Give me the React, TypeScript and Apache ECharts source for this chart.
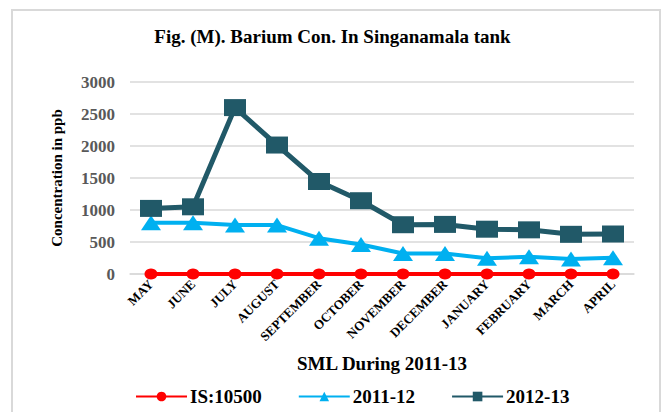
import React, { useEffect, useRef } from "react";
import * as echarts from "echarts";

const months = ["MAY", "JUNE", "JULY", "AUGUST", "SEPTEMBER", "OCTOBER", "NOVEMBER", "DECEMBER", "JANUARY", "FEBRUARY", "MARCH", "APRIL"];
const is10500 = [0, 0, 0, 0, 0, 0, 0, 0, 0, 0, 0, 0];
const y2011 = [800, 800, 765, 765, 560, 460, 320, 320, 245, 270, 235, 255];
const y2012 = [1025, 1050, 2600, 2015, 1445, 1145, 770, 775, 700, 690, 620, 625];

const FONT = "'Liberation Serif', 'Times New Roman', serif";

export default function App() {
  const ref = useRef<HTMLDivElement>(null);
  useEffect(() => {
    if (!ref.current) return;
    const chart = echarts.init(ref.current, undefined, { renderer: "svg" });
    chart.setOption({
      animation: false,
      backgroundColor: "#ffffff",
      title: {
        text: "Fig. (M). Barium Con. In Singanamala tank",
        left: "center",
        top: 22,
        textStyle: { fontFamily: FONT, fontWeight: "bold", fontSize: 19, color: "#000" },
      },
      graphic: [
        {
          type: "rect",
          shape: { x: 12, y: 10, width: 648, height: 430 },
          style: { fill: "none", stroke: "#d9d9d9", lineWidth: 2 },
          silent: true,
        },
      ],
      grid: { left: 130, right: 31, top: 82, bottom: 138, containLabel: false },
      legend: {
        top: 382,
        left: 130,
        itemWidth: 51,
        itemHeight: 12,
        itemGap: 36,
        textStyle: { fontFamily: FONT, fontWeight: "bold", fontSize: 19, color: "#000", padding: [0, 0, 0, -2] },
        data: ["IS:10500", "2011-12", "2012-13"],
      },
      xAxis: {
        type: "category",
        data: months,
        boundaryGap: true,
        axisLine: { lineStyle: { color: "#d9d9d9", width: 1.5 } },
        axisTick: { show: false },
        axisLabel: {
          rotate: 45,
          interval: 0,
          margin: 8,
          fontFamily: FONT,
          fontWeight: "bold",
          fontSize: 13,
          color: "#000",
        },
        name: "SML During 2011-13",
        nameLocation: "middle",
        nameGap: 80,
        nameTextStyle: { fontFamily: FONT, fontWeight: "bold", fontSize: 19, color: "#000" },
      },
      yAxis: {
        type: "value",
        min: 0,
        max: 3000,
        interval: 500,
        axisLine: { show: false },
        axisTick: { show: false },
        splitLine: { lineStyle: { color: "#d9d9d9", width: 1.5 } },
        axisLabel: {
          margin: 15,
          formatter: (v: number) => String(v),
          fontFamily: FONT,
          fontWeight: "bold",
          fontSize: 17,
          color: "#595959",
        },
        name: "Concentration in ppb",
        nameLocation: "middle",
        nameRotate: 90,
        nameGap: 66,
        nameTextStyle: { fontFamily: FONT, fontWeight: "bold", fontSize: 15, color: "#000" },
      },
      series: [
        {
          name: "IS:10500",
          type: "line",
          data: is10500,
          color: "#ff0000",
          symbol: "circle",
          symbolSize: [13, 11],
          lineStyle: { width: 4, color: "#ff0000" },
          itemStyle: { color: "#ff0000" },
          z: 3,
        },
        {
          name: "2011-12",
          type: "line",
          data: y2011,
          color: "#00b0f0",
          symbol: "triangle",
          symbolSize: [20, 15],
          lineStyle: { width: 4, color: "#00b0f0" },
          itemStyle: { color: "#00b0f0" },
          z: 4,
        },
        {
          name: "2012-13",
          type: "line",
          data: y2012,
          color: "#215968",
          symbol: "rect",
          symbolSize: [22, 17],
          lineStyle: { width: 5, color: "#215968" },
          itemStyle: { color: "#215968" },
          z: 5,
        },
      ],
    });
    return () => chart.dispose();
  }, []);
  return (
    <div
      ref={ref}
      style={{ position: "fixed", left: 0, top: 0, width: 665, height: 412 }}
    />
  );
}
